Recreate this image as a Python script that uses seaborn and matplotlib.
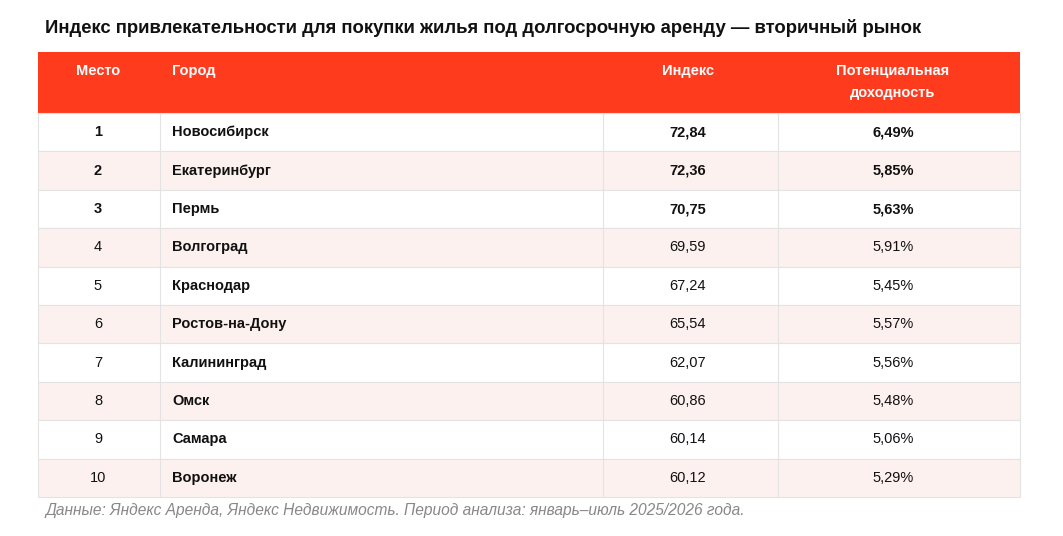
import matplotlib
matplotlib.use("Agg")
import matplotlib.pyplot as plt
import seaborn as sns
from matplotlib.patches import Rectangle

title = "Индекс привлекательности для покупки жилья под долгосрочную аренду — вторичный рынок"
headers = ["Место", "Город", "Индекс", "Потенциальная\nдоходность"]
ranks = ["1", "2", "3", "4", "5", "6", "7", "8", "9", "10"]
cities = ["Новосибирск", "Екатеринбург", "Пермь", "Волгоград", "Краснодар",
          "Ростов-на-Дону", "Калининград", "Омск", "Самара", "Воронеж"]
index_vals = ["72,84", "72,36", "70,75", "69,59", "67,24", "65,54", "62,07", "60,86", "60,14", "60,12"]
yields = ["6,49%", "5,85%", "5,63%", "5,91%", "5,45%", "5,57%", "5,56%", "5,48%", "5,06%", "5,29%"]
note = "Данные: Яндекс Аренда, Яндекс Недвижимость. Период анализа: январь–июль 2025/2026 года."

sns.set_theme(style="white")
plt.rcParams['font.family'] = ['Liberation Sans', 'DejaVu Sans']

fig = plt.figure(figsize=(10.63, 5.36), dpi=100)
ax = fig.add_axes([0, 0, 1, 1])
ax.set_xlim(0, 1063); ax.set_ylim(536, 0); ax.axis("off")

L, R = 38, 1020
hy0, hy1 = 52, 113
rh = 38.4
red = "#FF3B1E"
pink = "#FDF1EF"
grid = "#E3E3E3"

ax.text(45, 28, title, fontsize=13.3, fontweight="bold", va="center", ha="left", color="#111")
ax.add_patch(Rectangle((L, hy0), R - L, hy1 - hy0, color=red, lw=0))
hx = [98, 172, 688, 893]
has = ["center", "left", "center", "center"]
for x, h, ha in zip(hx, headers, has):
    ax.text(x, 64, h, color="white", fontweight="bold", fontsize=10.5,
            ha=ha, va="top", linespacing=1.75, multialignment="center")

for i in range(len(ranks)):
    y0 = hy1 + i * rh
    ax.add_patch(Rectangle((L, y0), R - L, rh, facecolor=pink if i % 2 else "white",
                           edgecolor=grid, lw=0.8))
    yc = y0 + rh / 2
    bold = "bold" if i < 3 else "normal"
    ax.text(98, yc, ranks[i], ha="center", va="center", fontsize=10.5, fontweight=bold, color="#111")
    ax.text(172, yc, cities[i], ha="left", va="center", fontsize=10.5, fontweight="bold", color="#111")
    ax.text(688, yc, index_vals[i], ha="center", va="center", fontsize=10.5, fontweight=bold, color="#111")
    ax.text(893, yc, yields[i], ha="center", va="center", fontsize=10.5, fontweight=bold, color="#111")

bottom = hy1 + len(ranks) * rh
for x in [160, 603, 778]:
    ax.plot([x, x], [hy1, bottom], color=grid, lw=0.8)

ax.text(45, 510, note, fontsize=11.2, style="italic", color="#888", ha="left", va="center")
fig.savefig("out.png", dpi=100)
